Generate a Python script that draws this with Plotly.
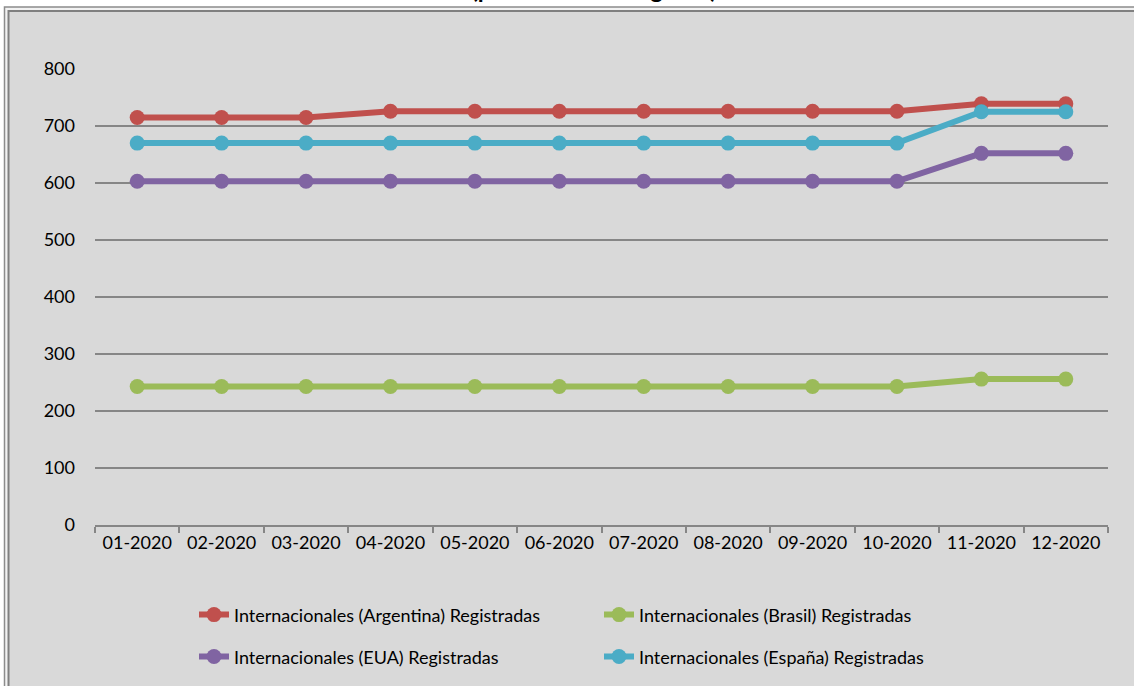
import plotly.graph_objects as go

months = ["01-2020", "02-2020", "03-2020", "04-2020", "05-2020", "06-2020",
          "07-2020", "08-2020", "09-2020", "10-2020", "11-2020", "12-2020"]
argentina = [715, 715, 715, 726, 726, 726, 726, 726, 726, 726, 739, 739]
brasil = [243, 243, 243, 243, 243, 243, 243, 243, 243, 243, 256, 256]
eua = [603, 603, 603, 603, 603, 603, 603, 603, 603, 603, 652, 652]
espana = [670, 670, 670, 670, 670, 670, 670, 670, 670, 670, 725, 725]

series_names = ["Internacionales (Argentina) Registradas",
                "Internacionales (Brasil) Registradas",
                "Internacionales (EUA) Registradas",
                "Internacionales (España) Registradas"]
series_values = [argentina, brasil, eua, espana]
series_colors = ["#C0504D", "#9BBB59", "#8064A2", "#4BACC6"]
series_legends = ["legend", "legend", "legend2", "legend2"]

W, H = 1134, 686
L, R, T, B = 95, 26, 68.5, 161
PW = W - L - R
PH = H - T - B


def px_x(p):
    return (p - L) / PW


def px_y(p):
    return (H - B - p) / PH


FONT = "Lato"
FS = 18

fig = go.Figure()
for name, vals, col, lg in zip(series_names, series_values, series_colors, series_legends):
    fig.add_trace(go.Scatter(
        x=months, y=vals, name=name, mode="lines+markers",
        line=dict(color=col, width=6),
        marker=dict(color=col, size=15),
        legend=lg,
    ))

shapes = [
    dict(type="rect", xref="paper", yref="paper", layer="below",
         x0=px_x(4.5), x1=px_x(1200), y0=px_y(800), y1=px_y(6.5),
         line=dict(color="#8C8C8C", width=1.5), fillcolor="#F2F2F2"),
    dict(type="rect", xref="paper", yref="paper", layer="below",
         x0=px_x(8.5), x1=px_x(1200), y0=px_y(800), y1=px_y(10.5),
         line=dict(color="#808080", width=2), fillcolor="#D9D9D9"),
]

legend_common = dict(
    orientation="h", xanchor="left", yanchor="middle",
    entrywidth=360, itemwidth=30,
    font=dict(family=FONT, size=FS, color="black"),
    bgcolor="rgba(0,0,0,0)",
)

fig.update_layout(
    width=W, height=H,
    margin=dict(l=L, r=R, t=T, b=B, autoexpand=False),
    paper_bgcolor="white",
    plot_bgcolor="rgba(0,0,0,0)",
    font=dict(family=FONT, size=FS, color="black"),
    shapes=shapes,
    showlegend=True,
    legend=dict(x=px_x(194), y=px_y(615), **legend_common),
    legend2=dict(x=px_x(194), y=px_y(657), **legend_common),
    annotations=[dict(
        text="<b>Marcas (por oficina de registro)</b>",
        xref="paper", yref="paper", x=px_x(552), y=px_y(4),
        xanchor="center", yanchor="bottom", showarrow=False,
        font=dict(family=FONT, size=24, color="black"),
    )],
    hovermode=False,
)

fig.update_xaxes(
    type="category", range=[-0.5, 11.5], showgrid=False, showline=True,
    linecolor="#868686", linewidth=2, ticks="outside", ticklen=6, tickwidth=2,
    tickcolor="#868686", tickson="boundaries", zeroline=False, fixedrange=True,
    automargin=False, tickfont=dict(family=FONT, size=FS, color="black"),
)
fig.update_yaxes(
    range=[0, 800], dtick=100, showgrid=True, gridcolor="#868686", gridwidth=2,
    zeroline=False, showline=False, ticks="", ticklabelstandoff=19,
    fixedrange=True, automargin=False,
    tickfont=dict(family=FONT, size=FS, color="black"),
)

fig.write_html("out.html", config={"displayModeBar": False},
               post_script="document.body.style.margin='0';")
